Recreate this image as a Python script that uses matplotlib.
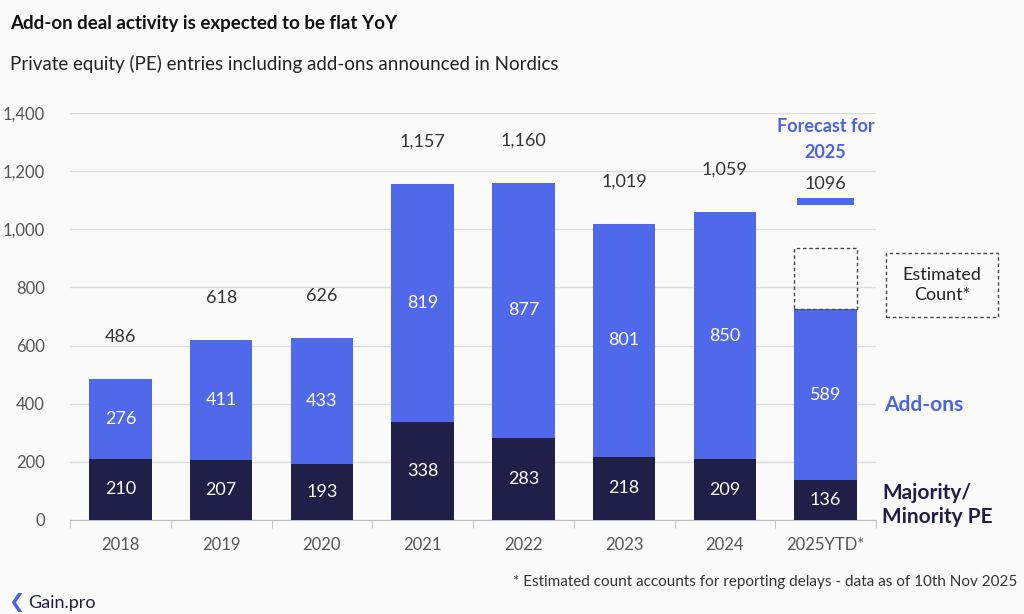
import matplotlib.pyplot as plt
from matplotlib.patches import Rectangle
import numpy as np

plt.rcParams['font.family'] = ['Lato', 'DejaVu Sans']

years = ['2018', '2019', '2020', '2021', '2022', '2023', '2024', '2025YTD*']
pe = [210, 207, 193, 338, 283, 218, 209, 136]
addons = [276, 411, 433, 819, 877, 801, 850, 589]
total_labels = ['486', '618', '626', '1,157', '1,160', '1,019', '1,059', '1096']
forecast = 1096
estimate_top = 935

navy = '#1f1f47'
blue = '#5068ea'
blue_txt = '#4b63e0'
grey = '#555555'
bg = '#fafafa'

fig = plt.figure(figsize=(10.24, 6.14), dpi=100, facecolor=bg)
ax = fig.add_axes([0.0684, 0.1531, 0.7871, 0.6629], facecolor=bg)

x = np.arange(len(years))
w = 0.62
pe_arr = np.array(pe)
add_arr = np.array(addons)
ax.bar(x, pe_arr, w, color=navy, zorder=3)
ax.bar(x, add_arr, w, bottom=pe_arr, color=blue, zorder=3)

for i in range(len(years)):
    ax.text(x[i], pe[i] / 2, str(pe[i]), color='white', ha='center', va='center', fontsize=13, zorder=4)
    ax.text(x[i], pe[i] + addons[i] / 2, str(addons[i]), color='white', ha='center', va='center', fontsize=13, zorder=4)

# totals above bars
for i in range(len(years) - 1):
    top = pe[i] + addons[i]
    ax.annotate(total_labels[i], (x[i], top), xytext=(0, 42), textcoords='offset pixels',
                ha='center', va='center', fontsize=13, color='#333333')

# estimate box for last bar
last = len(years) - 1
ytd = pe[last] + addons[last]
ax.add_patch(Rectangle((x[last] - w / 2, ytd), w, estimate_top - ytd, fill=False,
                       edgecolor='#444444', linestyle=(0, (2.5, 2)), linewidth=1, zorder=4))
# forecast marker
ax.bar(x[last], 24, 0.56, bottom=forecast - 12, color=blue, zorder=3)
ax.annotate(total_labels[last], (x[last], forecast), xytext=(0, 17), textcoords='offset pixels',
            ha='center', va='center', fontsize=13, color='#333333')
ax.annotate('Forecast for\n2025', (x[last], forecast), xytext=(0, 62), textcoords='offset pixels',
            ha='center', va='center', fontsize=13, color=blue_txt, fontweight='bold', linespacing=1.6)

ax.set_xlim(-0.5, len(years) - 0.5)
ax.set_ylim(0, 1400)
ax.set_yticks(np.arange(0, 1401, 200))
ax.set_yticklabels([f'{v:,}' for v in range(0, 1401, 200)])
ax.set_xticks(x)
ax.set_xticklabels(years)
ax.set_xticks(np.arange(-0.5, len(years), 1), minor=True)
ax.tick_params(axis='x', which='major', length=0, pad=12, labelsize=12, labelcolor=grey)
ax.tick_params(axis='x', which='minor', length=6, color='#bbbbbb')
ax.tick_params(axis='y', length=0, pad=18, labelsize=12, labelcolor=grey)
ax.grid(axis='y', color='#dcdcdc', linewidth=1, zorder=0)
for s in ['top', 'right', 'left']:
    ax.spines[s].set_visible(False)
ax.spines['bottom'].set_color('#bbbbbb')

# legend-like labels
fig.text(884 / 1024, 1 - 405 / 614, 'Add-ons', color=blue_txt, fontsize=15, fontweight='bold', va='center')
fig.text(882 / 1024, 1 - 505 / 614, 'Majority/\nMinority PE', color=navy, fontsize=15, fontweight='bold',
         va='center', linespacing=1.3)

# estimated count key
fig.patches.append(Rectangle((886 / 1024, 1 - 317 / 614), 112 / 1024, 64 / 614, transform=fig.transFigure,
                             fill=False, edgecolor='#444444', linestyle=(0, (2.5, 2)), linewidth=1))
fig.text(942 / 1024, 1 - 285 / 614, 'Estimated\nCount*', ha='center', va='center', fontsize=13,
         color='#222222', linespacing=1.3)

# titles
fig.text(10 / 1024, 1 - 23 / 614, 'Add-on deal activity is expected to be flat YoY', fontsize=13.5,
         fontweight='bold', color='#111111', va='center')
fig.text(10 / 1024, 1 - 64 / 614, 'Private equity (PE) entries including add-ons announced in Nordics',
         fontsize=13.5, color='#222222', va='center')

fig.text(1017 / 1024, 1 - 582 / 614,
         '* Estimated count accounts for reporting delays - data as of 10th Nov 2025',
         ha='right', va='center', fontsize=11, color='#333333')
fig.text(8 / 1024, 1 - 603 / 614, '\u276e', color='#4b63e0', fontsize=14, va='center', fontweight='bold')
fig.text(28 / 1024, 1 - 603 / 614, 'Gain.pro', color=navy, fontsize=13, va='center')

fig.savefig('out.png', dpi=100, facecolor=bg)
